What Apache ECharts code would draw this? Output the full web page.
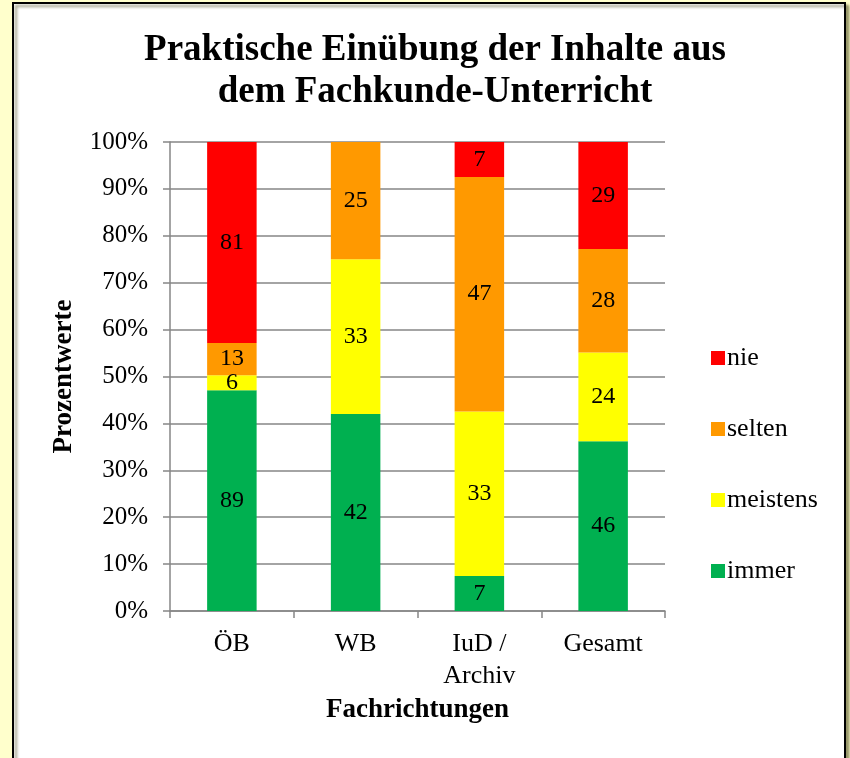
<!DOCTYPE html>
<html><head><meta charset="utf-8">
<script src="https://cdn.jsdelivr.net/npm/echarts@6/dist/echarts.min.js"></script>
<style>html,body{margin:0;padding:0;background:#FFFFCC;}#c{width:850px;height:758px;}</style>
</head><body><div id="c"></div>
<script>
const categories = ['ÖB', 'WB', 'IuD /\nArchiv', 'Gesamt'];
const immer = [89, 42, 7, 46];
const meistens = [6, 33, 33, 24];
const selten = [13, 25, 47, 28];
const nie = [81, 0, 7, 29];
const yTicks = [0, 10, 20, 30, 40, 50, 60, 70, 80, 90, 100];

const totals = categories.map((c, i) => immer[i] + meistens[i] + selten[i] + nie[i]);
const pct = arr => arr.map((v, i) => v / totals[i] * 100);
const font = 'Liberation Serif';
const colors = {nie: '#FF0000', selten: '#FF9900', meistens: '#FFFF00', immer: '#00B050'};

function mk(name, arr) {
  return {
    name: name, type: 'bar', stack: 'a', barCategoryGap: '60%',
    itemStyle: {color: colors[name]},
    data: pct(arr).map((v, i) => ({value: v, count: arr[i]})),
    label: {show: true, position: 'inside', color: '#000', fontFamily: font, fontSize: 24,
      formatter: p => p.data.count ? String(p.data.count) : ''},
    emphasis: {disabled: true}
  };
}

const chart = echarts.init(document.getElementById('c'), null, {renderer: 'canvas'});
chart.setOption({
  backgroundColor: '#FFFFCC',
  animation: false,
  graphic: [{type: 'rect', z: -10, shape: {x: 13, y: 3, width: 832, height: 820},
    style: {fill: '#fff', stroke: '#000', lineWidth: 2, shadowColor: 'rgba(80,80,40,0.6)', shadowBlur: 3, shadowOffsetX: 3, shadowOffsetY: 3}}],
  title: {text: 'Praktische Einübung der Inhalte aus\ndem Fachkunde-Unterricht', left: 430, textAlign: 'center', top: 24,
    textStyle: {fontFamily: font, fontWeight: 'bold', fontSize: 37, lineHeight: 42, color: '#000'}},
  grid: {left: 170, right: 185, top: 142, bottom: 147},
  legend: {orient: 'vertical', left: 706, top: 340, itemGap: 45, itemWidth: 14, itemHeight: 14,
    icon: 'rect', data: ['nie', 'selten', 'meistens', 'immer'],
    textStyle: {fontFamily: font, fontSize: 26, lineHeight: 26, color: '#000', padding: [0, 0, 0, -3]}},
  xAxis: {type: 'category', data: categories,
    axisLine: {lineStyle: {color: '#868686', width: 1.5}},
    axisTick: {show: true, length: 7, lineStyle: {color: '#868686', width: 1.5}},
    axisLabel: {fontFamily: font, fontSize: 26, color: '#000', margin: 17, lineHeight: 32},
    name: 'Fachrichtungen', nameLocation: 'middle', nameGap: 70,
    nameTextStyle: {fontFamily: font, fontWeight: 'bold', fontSize: 27, color: '#000'}},
  yAxis: {type: 'value', min: 0, max: 100, interval: 10,
    axisLine: {show: true, lineStyle: {color: '#868686', width: 1.5}},
    axisTick: {show: true, length: 7, lineStyle: {color: '#868686', width: 1.5}},
    splitLine: {lineStyle: {color: '#868686', width: 1.5}},
    axisLabel: {fontFamily: font, fontSize: 25, color: '#000', margin: 22,
      formatter: v => yTicks.includes(v) ? v + '%' : ''},
    name: 'Prozentwerte', nameLocation: 'middle', nameGap: 92, nameRotate: 90,
    nameTextStyle: {fontFamily: font, fontWeight: 'bold', fontSize: 27, color: '#000'}},
  series: [mk('immer', immer), mk('meistens', meistens), mk('selten', selten), mk('nie', nie)]
});
</script></body></html>
